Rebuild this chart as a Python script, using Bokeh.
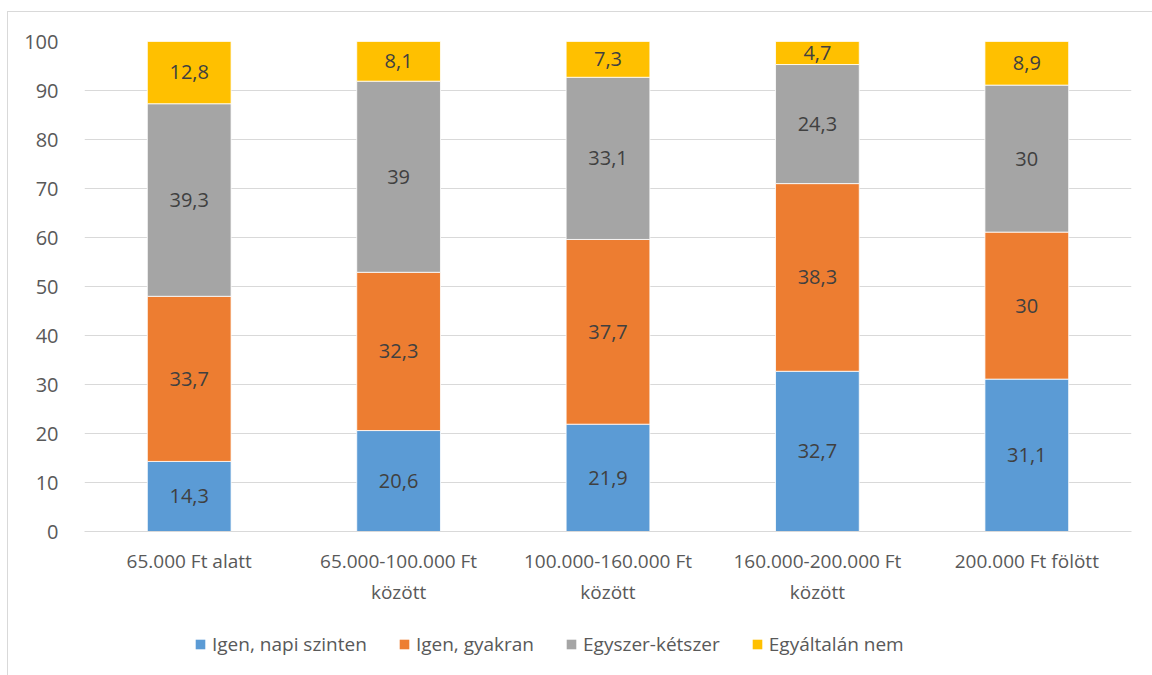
from bokeh.plotting import figure
from bokeh.layouts import column
from bokeh.models import ColumnDataSource, Legend, LegendItem, FixedTicker
from bokeh.embed import file_html
from bokeh.resources import INLINE
from bokeh.core.properties import value

categories = ["65.000 Ft alatt", "65.000-100.000 Ft\nközött", "100.000-160.000 Ft\nközött",
              "160.000-200.000 Ft\nközött", "200.000 Ft fölött"]
series_names = ["Igen, napi szinten", "Igen, gyakran", "Egyszer-kétszer", "Egyáltalán nem"]
napi = [14.3, 20.6, 21.9, 32.7, 31.1]
gyakran = [33.7, 32.3, 37.7, 38.3, 30.0]
egyszer = [39.3, 39.0, 33.1, 24.3, 30.0]
nem = [12.8, 8.1, 7.3, 4.7, 8.9]
colors = ["#5B9BD5", "#ED7D31", "#A5A5A5", "#FFC000"]
y_ticks = [0, 10, 20, 30, 40, 50, 60, 70, 80, 90, 100]

FONT = "Open Sans"
keys = ["napi", "gyakran", "egyszer", "nem"]
data = dict(cat=categories, napi=napi, gyakran=gyakran, egyszer=egyszer, nem=nem)
src = ColumnDataSource(data)

p = figure(x_range=categories, y_range=(0, 100), width=1145, height=604,
           output_backend="svg", toolbar_location=None,
           min_border_left=76, min_border_right=22, min_border_top=29, min_border_bottom=85)
p.outline_line_color = None
p.styles = {"margin-left": "7px", "margin-top": "11px",
            "border-left": "1px solid #d9d9d9", "border-top": "1px solid #d9d9d9"}

renderers = p.vbar_stack(keys, x="cat", width=0.4, source=src, color=colors,
                         line_color="white", line_width=0.8)

# labels
lx, ly, lt = [], [], []
series = [napi, gyakran, egyszer, nem]
for i, c in enumerate(categories):
    base = 0.0
    for s in series:
        v = s[i]
        lx.append(c)
        ly.append(base + v / 2)
        lt.append(f"{v:g}".replace(".", ","))
        base += v
lsrc = ColumnDataSource(dict(x=lx, y=ly, t=lt))
p.text(x="x", y="y", text="t", source=lsrc, text_align="center", text_baseline="middle",
       text_font=value(FONT), text_font_size="20px", text_color="#404040")

p.yaxis.ticker = FixedTicker(ticks=y_ticks)
p.ygrid.ticker = FixedTicker(ticks=y_ticks)
p.xgrid.grid_line_color = None
p.ygrid.grid_line_color = "#d9d9d9"
p.ygrid.grid_line_width = 1.2
for ax in [p.xaxis[0], p.yaxis[0]]:
    ax.major_tick_line_color = None
    ax.minor_tick_line_color = None
    ax.major_label_text_font = FONT
    ax.major_label_text_color = "#595959"
p.yaxis.major_label_text_font_size = "20px"
p.xaxis.major_label_text_font_size = "19px"
p.yaxis.axis_line_color = None
p.yaxis.major_label_standoff = 20
p.xaxis.axis_line_color = "#d9d9d9"
p.xaxis.axis_line_width = 1.2
p.xaxis.major_label_standoff = 10

# legend strip below the chart (swatch renderers hold no visible marks)
lp = figure(width=1145, height=60, x_range=(0, 1), y_range=(0, 1),
            output_backend="svg", toolbar_location=None,
            min_border=0)
lp.styles = {"margin-left": "7px", "border-left": "1px solid #d9d9d9"}
lp.axis.visible = False
lp.grid.visible = False
lp.outline_line_color = None
hidden = ColumnDataSource(dict(x=[-5.0], top=[0.0]))
swatches = [lp.vbar(x="x", top="top", width=0.1, source=hidden, fill_color=c, line_color=None)
            for c in colors]
legend = Legend(items=[LegendItem(label=n, renderers=[r]) for n, r in zip(series_names, swatches)],
                orientation="horizontal", location=(110, 18),
                label_text_font=FONT, label_text_font_size="19px", label_text_color="#595959",
                glyph_width=12, glyph_height=12, label_standoff=6, spacing=31,
                border_line_color=None, background_fill_alpha=0, margin=0, padding=0)
lp.add_layout(legend, "center")

layout = column(p, lp, spacing=0)
open("out.html", "w").write(file_html(layout, INLINE))
